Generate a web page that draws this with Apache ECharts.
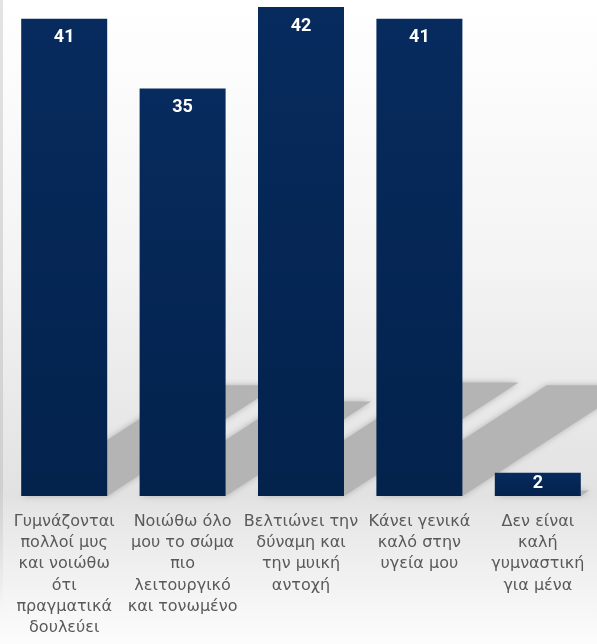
<!DOCTYPE html>
<html>
<head>
<meta charset="utf-8">
<script src="https://cdn.jsdelivr.net/npm/echarts@6/dist/echarts.min.js"></script>
<style>
  html, body { margin: 0; padding: 0; background: #fff; }
  #chart { width: 597px; height: 644px; }
</style>
</head>
<body>
<div id="chart"></div>
<script>
const categories = [
  'Γυμνάζονται\nπολλοί μυς\nκαι νοιώθω\nότι\nπραγματικά\nδουλεύει',
  'Νοιώθω όλο\nμου το σώμα\nπιο\nλειτουργικό\nκαι τονωμένο',
  'Βελτιώνει την\nδύναμη και\nτην μυική\nαντοχή',
  'Κάνει γενικά\nκαλό στην\nυγεία μου',
  'Δεν είναι\nκαλή\nγυμναστική\nγια μένα'
];
const values = [41, 35, 42, 41, 2];

const chart = echarts.init(document.getElementById('chart'));

// perspective shadow behind each bar (template decoration)
function renderShadow(params, api) {
  const base = api.coord([api.value(0), 0]);
  const top = api.coord([api.value(0), api.value(1)]);
  const h = base[1] - top[1];
  const len = h * 0.232;
  const dx = len / 0.65;
  const half = 43;
  return {
    type: 'polygon',
    shape: {
      points: [
        [base[0] - half, base[1]],
        [base[0] + half, base[1]],
        [base[0] + half + dx, base[1] - len],
        [base[0] - half + dx, base[1] - len]
      ]
    },
    style: {
      fill: '#b4b4b4',
      shadowBlur: 6,
      shadowColor: 'rgba(170,170,170,0.9)'
    }
  };
}

const option = {
  animation: false,
  graphic: [
    {
      type: 'rect',
      z: -100,
      shape: { x: 0, y: 0, width: 597, height: 644 },
      style: {
        fill: new echarts.graphic.LinearGradient(0, 0, 0, 1, [
          { offset: 0, color: '#ffffff' },
          { offset: 0.4, color: '#f4f4f4' },
          { offset: 0.77, color: '#e2e2e2' },
          { offset: 0.8, color: '#e7e7e7' },
          { offset: 1, color: '#fcfcfc' }
        ])
      }
    },
    {
      type: 'rect',
      z: -90,
      shape: { x: 0, y: 0, width: 3, height: 610 },
      style: {
        fill: new echarts.graphic.LinearGradient(0, 0, 0, 1, [
          { offset: 0, color: '#e4e4e4' },
          { offset: 0.8, color: '#cfcfcf' },
          { offset: 1, color: 'rgba(220,220,220,0)' }
        ])
      }
    }
  ],
  grid: {
    left: 5,
    right: -2,
    top: 7,
    bottom: 148
  },
  xAxis: {
    type: 'category',
    data: categories,
    axisLine: { show: false },
    axisTick: { show: false },
    axisLabel: {
      interval: 0,
      margin: 15,
      color: '#595959',
      fontFamily: 'DejaVu Sans',
      fontSize: 16,
      lineHeight: 21.3
    }
  },
  yAxis: {
    type: 'value',
    min: 0,
    max: 42,
    show: false
  },
  series: [
    {
      type: 'custom',
      z: 1,
      silent: true,
      renderItem: renderShadow,
      data: values.map((v, i) => [i, v])
    },
    {
      type: 'bar',
      z: 3,
      barWidth: 86,
      data: values.map((v, i) => (i === 4
        ? { value: v, label: { distance: 2 } }
        : v)),
      itemStyle: {
        color: new echarts.graphic.LinearGradient(0, 0, 0, 1, [
          { offset: 0, color: '#072b5e' },
          { offset: 1, color: '#03224c' }
        ])
      },
      label: {
        show: true,
        position: 'insideTop',
        distance: 10,
        color: '#ffffff',
        fontFamily: 'Roboto',
        fontWeight: 'bold',
        fontSize: 18
      }
    }
  ]
};

chart.setOption(option);
</script>
</body>
</html>
